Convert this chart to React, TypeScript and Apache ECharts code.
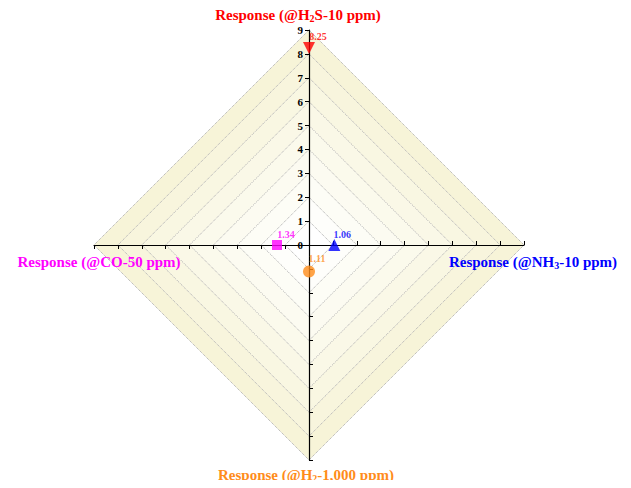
import React, { useEffect, useRef } from "react";
import * as echarts from "echarts";

const indicatorNames = ["H2S", "CO", "H2", "NH3"];
const axisMax = 9;
const pointNames = ["H2S", "NH3", "H2", "CO"];
const pointX = [0, 1.06, 0, -1.34];
const pointY = [8.25, 0, -1.11, 0];
const pointLabels = ["8.25", "1.06", "1.11", "1.34"];
const pointColors = ["#ff0000", "#0000ff", "#ff8c1a", "#ff00ff"];
const pointSymbols = ["triangle", "triangle", "circle", "rect"];
const pointRotate = [180, 0, 0, 0];
const labelOffsets = [[9, -11], [8, -11], [8, -13], [9, -11]];

// body margin is 8px: chart coordinates are page coordinates minus 8
const CX = 301;
const CY = 237;
const R = 215;
const FONT = "'Liberation Serif', 'Times New Roman', serif";

function nameText(main1: string, sub: string, main2: string, color: string) {
  return {
    text: sub ? `{a|${main1}}{s|${sub}}{a|${main2}}` : `{a|${main1}${main2}}`,
    rich: {
      a: { fontSize: 15, fontWeight: "bold", fontFamily: FONT, fill: color, lineHeight: 16 },
      s: { fontSize: 10, fontWeight: "bold", fontFamily: FONT, fill: color, lineHeight: 16, padding: [7, 0, 0, 0] },
    },
    align: "center",
    verticalAlign: "middle",
  };
}

export default function App() {
  const ref = useRef<HTMLDivElement>(null);
  useEffect(() => {
    if (!ref.current) return;
    const chart = echarts.init(ref.current, undefined, { renderer: "svg" });
    const bandColors = [
      "#ffffff", "#fefefb", "#fdfdf6", "#fcfbf1", "#fbfaec",
      "#faf8e7", "#f9f7e2", "#f8f5dd", "#f7f4d8",
    ];
    const indicators = indicatorNames.map((n, i) =>
      i === 0
        ? { name: n, min: 0, max: axisMax, axisLabel: { show: true } }
        : { name: n, min: 0, max: axisMax }
    );
    const scatterData = pointNames.map((n, i) => ({
      name: n,
      value: [pointX[i], pointY[i]],
      symbol: pointSymbols[i],
      symbolRotate: pointRotate[i],
      symbolSize: pointSymbols[i] === "rect" ? 10 : 12,
      itemStyle: { color: pointColors[i] },
      label: {
        show: true,
        position: "inside",
        offset: labelOffsets[i],
        formatter: pointLabels[i],
        color: pointColors[i],
        fontSize: 10,
        fontWeight: "bold",
        fontFamily: FONT,
      },
    }));
    chart.setOption({
      animation: false,
      radar: [
        {
          center: [CX, CY],
          radius: R,
          startAngle: 90,
          shape: "polygon",
          splitNumber: 9,
          indicator: indicators,
          axisName: { show: false },
          axisLine: { show: true, lineStyle: { color: "#000", width: 1.2 } },
          axisTick: { show: true, length: 4, lineStyle: { color: "#000", width: 1 } },
          axisLabel: {
            show: false,
            color: "#000",
            fontSize: 11,
            fontWeight: "bold",
            fontFamily: FONT,
            margin: 6,
            showMinLabel: true,
            showMaxLabel: true,
          },
          splitLine: { show: true, lineStyle: { color: "#aaa", type: "dotted", width: 1 } },
          splitArea: { show: true, areaStyle: { color: bandColors } },
        },
        {
          center: [CX, CY],
          radius: R,
          startAngle: 90,
          shape: "polygon",
          splitNumber: 9,
          indicator: indicatorNames.map((n) => ({ name: n, min: 0, max: axisMax })),
          axisName: { show: false },
          axisLine: { show: false },
          axisTick: { show: true, inside: true, length: 4, lineStyle: { color: "#000", width: 1 } },
          axisLabel: { show: false },
          splitLine: { show: false },
          splitArea: { show: false },
        },
      ],
      grid: { left: CX - R, top: CY - R, width: 2 * R, height: 2 * R },
      xAxis: { type: "value", min: -axisMax, max: axisMax, show: false },
      yAxis: { type: "value", min: -axisMax, max: axisMax, show: false },
      series: [
        {
          type: "scatter",
          data: scatterData,
          z: 10,
        },
      ],
      graphic: [
        { type: "text", x: 290, y: 7, z: 20, style: nameText("Response (@H", "2", "S-10 ppm)", "#ff0000") },
        { type: "text", x: 91, y: 254, z: 20, style: nameText("Response (@CO-50 ppm)", "", "", "#ff00ff") },
        { type: "text", x: 525, y: 254, z: 20, style: nameText("Response (@NH", "3", "-10 ppm)", "#0000ff") },
        { type: "text", x: 298, y: 467, z: 20, style: nameText("Response (@H", "2", "-1,000 ppm)", "#ff8c1a") },
      ],
    });
    return () => chart.dispose();
  }, []);
  return <div ref={ref} style={{ width: 615, height: 480, marginBottom: -8 }} />;
}
